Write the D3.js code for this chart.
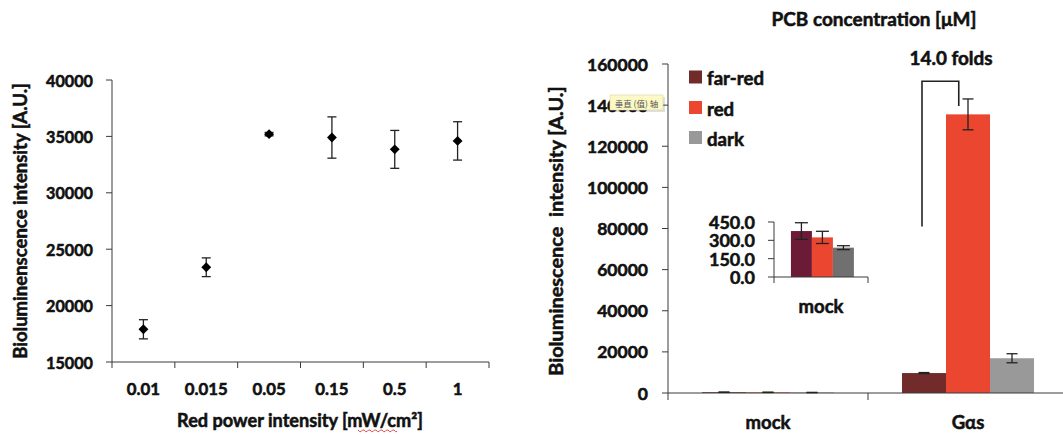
<!DOCTYPE html>
<html><head><meta charset="utf-8">
<script src="https://cdn.jsdelivr.net/npm/d3@7"></script>
<style>
body{margin:0;background:#fff;}
svg{display:block;}
text{font-family:Lato,"Open Sans",sans-serif;font-weight:bold;fill:#111;stroke:#111;stroke-width:0.55px;}
</style></head>
<body><svg id="c" width="1063" height="435"></svg>
<script>
// ---- left chart data ----
const leftCats = ["0.01","0.015","0.05","0.15","0.5","1"];
const leftVals = [17900, 23400, 35200, 34900, 33850, 34600];
const leftErr  = [850, 830, 150, 1830, 1680, 1700];
const leftTicks = [15000, 20000, 25000, 30000, 35000, 40000];
const leftXTitle = "Red power intensity [mW/cm²]";
const leftYTitle = "Bioluminenscence intensity [A.U.]";

// ---- right chart data ----
const groups = ["mock", "Gαs"];
const series = ["far-red", "red", "dark"];
const mockVals = [376, 324, 240];
const mockErr  = [68, 50, 16];
const gasVals  = [9700, 135500, 16900];
const gasErr   = [250, 7500, 2200];
const rightTicks = [0, 20000, 40000, 60000, 80000, 100000, 120000, 140000, 160000];
const insetTicks = [0, 150, 300, 450];
const mainColors  = ["#722b2b", "#eb4630", "#999999"];
const insetColors = ["#6b1b35", "#eb4630", "#707070"];
const rightTitle = "PCB concentration [μM]";
const rightYTitle = "Bioluminescence  intensity [A.U.]";
const foldLabel = "14.0 folds";
const bracketVals = [151600, 81000, 139600]; // top, left leg end, right leg end
const tooltipText = "垂直 (值) 轴";

const svg = d3.select("#c");
const AX = "#3a3a3a";

function fitSize(str, target, base) {
  const t = svg.append("text").style("font-size", base + "px").text(str);
  const w = t.node().getComputedTextLength();
  t.remove();
  return base * target / w;
}

// ================= LEFT CHART =================
const lx = d3.scaleBand().domain(leftCats).range([112, 489]);
const ly = d3.scaleLinear().domain([15000, 40000]).range([362, 80]);
const gL = svg.append("g");

gL.append("line").attr("x1", 112).attr("x2", 112).attr("y1", ly(40000)).attr("y2", ly(15000)).attr("stroke", AX);
gL.append("line").attr("x1", 112).attr("x2", 489).attr("y1", ly(15000)).attr("y2", ly(15000)).attr("stroke", AX);
const lyTickFs = fitSize("40000", 47, 17);
leftTicks.forEach(v => {
  gL.append("line").attr("x1", 106).attr("x2", 112).attr("y1", ly(v)).attr("y2", ly(v)).attr("stroke", AX);
  gL.append("text").attr("x", 93).attr("y", ly(v)).attr("text-anchor", "end")
    .attr("dominant-baseline", "central").style("font-size", lyTickFs + "px").text(d3.format("d")(v));
});
const bounds = leftCats.map(c => lx(c)).concat([lx.range()[1]]);
bounds.forEach(b => gL.append("line").attr("x1", b).attr("x2", b).attr("y1", 362).attr("y2", 368).attr("stroke", AX));
const lxTickFs = fitSize("0.015", 43, 17);
leftCats.forEach(c => gL.append("text").attr("x", lx(c) + lx.bandwidth() / 2).attr("y", 388)
  .attr("text-anchor", "middle").attr("dominant-baseline", "central").style("font-size", lxTickFs + "px").text(c));

leftCats.forEach((c, i) => {
  const cx = lx(c) + lx.bandwidth() / 2;
  const top = ly(leftVals[i] + leftErr[i]), bot = ly(leftVals[i] - leftErr[i]);
  gL.append("line").attr("x1", cx).attr("x2", cx).attr("y1", top).attr("y2", bot).attr("stroke", "#222").attr("stroke-width", 1.3);
  [top, bot].forEach(yy => gL.append("line").attr("x1", cx - 4.5).attr("x2", cx + 4.5).attr("y1", yy).attr("y2", yy).attr("stroke", "#222").attr("stroke-width", 1.3));
  gL.append("path").attr("d", d3.symbol(d3.symbolDiamond2, 62)()).attr("transform", `translate(${cx},${ly(leftVals[i])})`).attr("fill", "#000");
});

const lxtFs = fitSize(leftXTitle, 246, 18);
gL.append("text").attr("x", 300).attr("y", 420).attr("text-anchor", "middle").attr("dominant-baseline", "central")
  .style("font-size", lxtFs + "px").text(leftXTitle);
let sq = "M358,430";
for (let k = 0; k < 13; k++) sq += ` l1.5,${k % 2 ? -1.6 : 1.6} l1.5,0`;
gL.append("path").attr("d", sq).attr("fill", "none").attr("stroke", "#e03a3a").attr("stroke-width", 0.9);
const lytFs = fitSize(leftYTitle, 276, 17);
gL.append("text").attr("transform", "translate(20,221) rotate(-90)").attr("text-anchor", "middle")
  .attr("dominant-baseline", "central").style("font-size", lytFs + "px").text(leftYTitle);

// ================= RIGHT CHART =================
const rx0 = d3.scaleBand().domain(groups).range([668, 1068]);
const rx1 = d3.scaleBand().domain(series).range([rx0.bandwidth() * 0.17, rx0.bandwidth() * 0.83]);
const ry = d3.scaleLinear().domain([0, 160000]).range([393, 64]);
const gR = svg.append("g");
const groupData = { "mock": [mockVals, mockErr], "Gαs": [gasVals, gasErr] };

groups.forEach(g => {
  const [vals, errs] = groupData[g];
  series.forEach((s, i) => {
    const x = rx0(g) + rx1(s);
    gR.append("rect").attr("x", x).attr("y", ry(vals[i])).attr("width", rx1.bandwidth())
      .attr("height", ry(0) - ry(vals[i])).attr("fill", mainColors[i]);
  });
});
gR.append("line").attr("x1", 668).attr("x2", 668).attr("y1", ry(160000)).attr("y2", ry(0)).attr("stroke", AX);
gR.append("line").attr("x1", 668).attr("x2", 1063).attr("y1", ry(0)).attr("y2", ry(0)).attr("stroke", AX);
const ryTickFs = fitSize("160000", 61, 17);
rightTicks.forEach(v => {
  gR.append("line").attr("x1", 662).attr("x2", 668).attr("y1", ry(v)).attr("y2", ry(v)).attr("stroke", AX);
  gR.append("text").attr("x", 648).attr("y", ry(v)).attr("text-anchor", "end").attr("dominant-baseline", "central")
    .style("font-size", ryTickFs + "px").text(d3.format("d")(v));
});
[rx0("mock"), rx0("Gαs"), rx0.range()[1]].forEach(b =>
  gR.append("line").attr("x1", b).attr("x2", b).attr("y1", ry(0)).attr("y2", ry(0) + 7).attr("stroke", AX));
const rxFs = fitSize("mock", 45, 18);
groups.forEach(g => gR.append("text").attr("x", rx0(g) + rx0.bandwidth() / 2).attr("y", 422)
  .attr("text-anchor", "middle").attr("dominant-baseline", "central").style("font-size", rxFs + "px").text(g));

groups.forEach(g => {
  const [vals, errs] = groupData[g];
  series.forEach((s, i) => {
    const cx = rx0(g) + rx1(s) + rx1.bandwidth() / 2;
    const top = ry(vals[i] + errs[i]), bot = ry(vals[i] - errs[i]);
    gR.append("line").attr("x1", cx).attr("x2", cx).attr("y1", top).attr("y2", bot).attr("stroke", "#222").attr("stroke-width", 1.3);
    [top, bot].forEach(yy => gR.append("line").attr("x1", cx - 5.5).attr("x2", cx + 5.5).attr("y1", yy).attr("y2", yy).attr("stroke", "#222").attr("stroke-width", 1.3));
  });
});

const bl = rx0("Gαs") + rx1("far-red") + rx1.bandwidth() / 2 - 2;
const br = rx0("Gαs") + rx1("red") + rx1.bandwidth() * 0.29;
gR.append("path").attr("d", `M${bl},${ry(bracketVals[1])} L${bl},${ry(bracketVals[0])} L${br},${ry(bracketVals[0])} L${br},${ry(bracketVals[2])}`)
  .attr("fill", "none").attr("stroke", "#222").attr("stroke-width", 1.6);
const foldFs = fitSize(foldLabel, 83, 18);
gR.append("text").attr("x", 951).attr("y", 57).attr("text-anchor", "middle").attr("dominant-baseline", "central")
  .style("font-size", foldFs + "px").text(foldLabel);

const rtFs = fitSize(rightTitle, 205, 17);
gR.append("text").attr("x", 874).attr("y", 18).attr("text-anchor", "middle").attr("dominant-baseline", "central")
  .style("font-size", rtFs + "px").text(rightTitle);
const rytFs = fitSize(rightYTitle, 285, 17);
gR.append("text").attr("transform", "translate(555,231) rotate(-90)").attr("text-anchor", "middle")
  .attr("dominant-baseline", "central").attr("xml:space", "preserve").style("white-space", "pre")
  .style("font-size", rytFs + "px").text(rightYTitle);

const legFs = fitSize("far-red", 57, 20);
const legY = [77, 107.5, 137.5];
series.forEach((s, i) => {
  gR.append("rect").attr("x", 689).attr("y", legY[i] - 6.5).attr("width", 13).attr("height", 13).attr("fill", mainColors[i]);
  gR.append("text").attr("x", 707).attr("y", legY[i] + 1).attr("dominant-baseline", "central")
    .style("font-size", legFs + "px").text(s);
});

// ================= INSET =================
const ix0 = d3.scaleBand().domain(["mock"]).range([774, 868]);
const ix1 = d3.scaleBand().domain(series).range([ix0.bandwidth() * 0.18, ix0.bandwidth() * 0.85]);
const iy = d3.scaleLinear().domain([0, 450]).range([277, 222]);
const gI = svg.append("g");
series.forEach((s, i) => {
  gI.append("rect").attr("x", ix0("mock") + ix1(s)).attr("y", iy(mockVals[i])).attr("width", ix1.bandwidth())
    .attr("height", iy(0) - iy(mockVals[i])).attr("fill", insetColors[i]);
});
series.forEach((s, i) => {
  const cx = ix0("mock") + ix1(s) + ix1.bandwidth() / 2;
  const top = iy(mockVals[i] + mockErr[i]), bot = iy(mockVals[i] - mockErr[i]);
  gI.append("line").attr("x1", cx).attr("x2", cx).attr("y1", top).attr("y2", bot).attr("stroke", "#222").attr("stroke-width", 1.3);
  [top, bot].forEach(yy => gI.append("line").attr("x1", cx - 6.5).attr("x2", cx + 6.5).attr("y1", yy).attr("y2", yy).attr("stroke", "#222").attr("stroke-width", 1.3));
});
gI.append("line").attr("x1", 774).attr("x2", 774).attr("y1", iy(450)).attr("y2", iy(0)).attr("stroke", AX);
gI.append("line").attr("x1", 774).attr("x2", 868).attr("y1", iy(0)).attr("y2", iy(0)).attr("stroke", AX);
[774, 868].forEach(b => gI.append("line").attr("x1", b).attr("x2", b).attr("y1", iy(0)).attr("y2", iy(0) + 6).attr("stroke", AX));
const iyFs = fitSize("450.0", 46, 17);
insetTicks.forEach(v => {
  gI.append("line").attr("x1", 768).attr("x2", 774).attr("y1", iy(v)).attr("y2", iy(v)).attr("stroke", AX);
  gI.append("text").attr("x", 755).attr("y", iy(v)).attr("text-anchor", "end").attr("dominant-baseline", "central")
    .style("font-size", iyFs + "px").text(d3.format(".1f")(v));
});
gI.append("text").attr("x", 821).attr("y", 306).attr("text-anchor", "middle").attr("dominant-baseline", "central")
  .style("font-size", rxFs + "px").text("mock");

// ================= TOOLTIP =================
const gT = svg.append("g");
gT.append("rect").attr("x", 612).attr("y", 97).attr("width", 53).attr("height", 15).attr("fill", "#000").attr("opacity", 0.12);
gT.append("rect").attr("x", 610).attr("y", 95).attr("width", 53).attr("height", 15).attr("fill", "#fcf9c6").attr("stroke", "#d8d4a0").attr("stroke-width", 0.6);
gT.append("text").attr("x", 636.5).attr("y", 102.5).attr("text-anchor", "middle").attr("dominant-baseline", "central")
  .style("font-family", "'Noto Sans CJK SC'").style("font-weight", "normal").style("stroke", "none").style("font-size", "8.5px").style("fill", "#555")
  .text(tooltipText);
</script></body></html>
